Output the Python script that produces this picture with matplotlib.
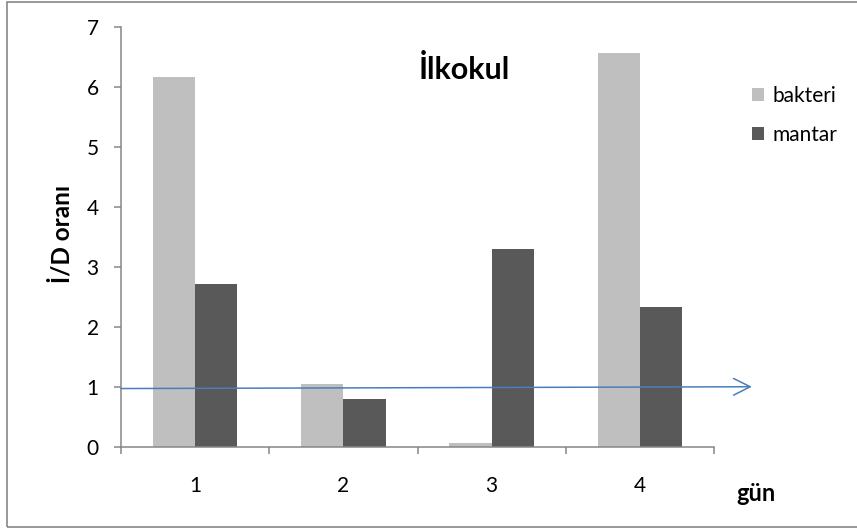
import matplotlib.pyplot as plt
from matplotlib.patches import Rectangle

# I/D ratio per day, primary school
days = ["1", "2", "3", "4"]
bakteri = [6.17, 1.05, 0.07, 6.57]
mantar = [2.72, 0.80, 3.30, 2.33]
ref_line = [0.97, 1.0]

plt.rcParams["font.family"] = ["Lato", "DejaVu Sans"]
axis_grey = "#868686"
W, H = 857, 529

fig = plt.figure(figsize=(8.57, 5.29), dpi=100)
ax = fig.add_axes([121 / W, 82.3 / H, 593 / W, 419.7 / H])

x = list(range(1, len(days) + 1))
w = 0.285
ax.bar([i - w / 2 for i in x], bakteri, width=w, color="#bfbfbf", label="bakteri")
ax.bar([i + w / 2 for i in x], mantar, width=w, color="#595959", label="mantar")

ax.set_xlim(0.5, 4.5)
ax.set_ylim(0, 7)
ax.set_yticks(range(0, 8))

# ticks on category boundaries, labels in the middle
ax.set_xticks([0.5, 1.5, 2.5, 3.5, 4.5])
ax.set_xticklabels([])
ax.set_xticks(x, minor=True)
ax.set_xticklabels(days, minor=True)
ax.tick_params(axis="x", which="major", direction="out", length=5, width=1.1, color=axis_grey)
ax.tick_params(axis="x", which="minor", length=0, pad=21, labelsize=15)
ax.tick_params(axis="y", direction="out", length=5, width=1.1, color=axis_grey, pad=11, labelsize=15)

for side in ["top", "right"]:
    ax.spines[side].set_visible(False)
for side in ["left", "bottom"]:
    ax.spines[side].set_color(axis_grey)
    ax.spines[side].set_linewidth(1.1)

# reference line at ratio 1
ax.annotate("", xy=(4.756, ref_line[1]), xytext=(0.5, ref_line[0]),
            xycoords="data", annotation_clip=False,
            arrowprops=dict(arrowstyle="->,head_length=0.6,head_width=0.3",
                            color="#4a7ebb", lw=1.1, mutation_scale=20,
                            shrinkA=0, shrinkB=0))

fig.text(464 / W, 1 - 79 / H, "İlkokul", fontsize=22, fontweight="bold",
         ha="center", va="baseline")
fig.text(62 / W, 1 - 234 / H, "İ/D oranı", fontsize=17.5, fontweight="bold",
         rotation=90, ha="center", va="center")
fig.text(756 / W, 1 - 501 / H, "gün", fontsize=17, fontweight="bold",
         ha="center", va="baseline")

ax.legend(loc="upper left", bbox_to_anchor=(752 / W, 1 - 86 / H),
          bbox_transform=fig.transFigure, frameon=False, fontsize=15,
          borderpad=0, borderaxespad=0,
          handlelength=0.58, handleheight=0.58, handletextpad=0.4, labelspacing=0.9)

# outer chart border
fig.patches.append(Rectangle((7 / W, 2.5 / H), 852 / W, 524.5 / H,
                             transform=fig.transFigure, fill=False,
                             edgecolor=axis_grey, linewidth=1.2))

plt.savefig("out.png", dpi=100)
